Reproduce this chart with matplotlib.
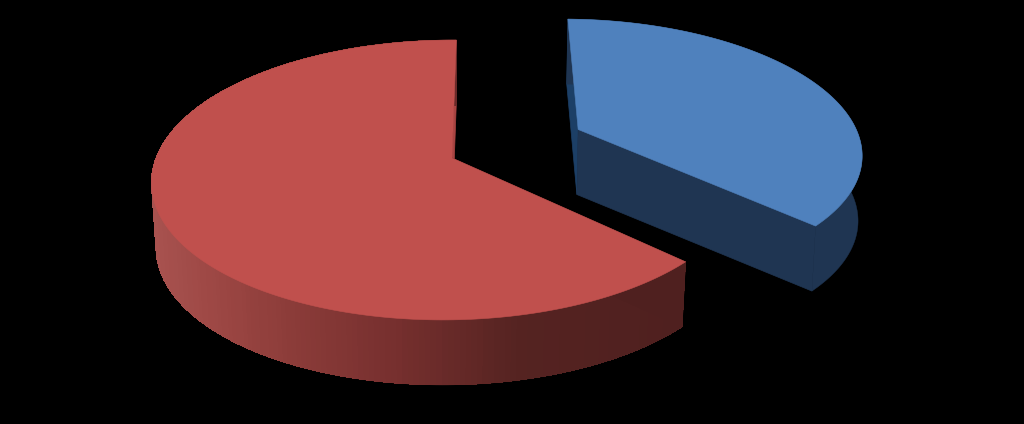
import numpy as np
import matplotlib
matplotlib.use('Agg')
import matplotlib.pyplot as plt
from matplotlib.colors import to_rgb

shares = [37, 63]
top_colors = ['#4f81bd', '#c0504d']
inner_colors = ['#1c3f66', '#a84442']
side_blue = '#1f3552'
red_cut = '#4f201f'
explode = [0.47, 0.0]

# side shading of the red rim, read left to right across the picture
shade_x = [155, 230, 300, 400, 520, 680]
shade_cols = ['#a8524f', '#9a4542', '#8a3b38', '#762f2e', '#552321', '#4f201f']
shade_rgb = np.array([to_rgb(c) for c in shade_cols])

W, H = 1024, 424
apex_x, apex_y = 452, 158
R, Rk, p, q, r = 293, 136.5, 0.157, -5, 0.01
thick = 65
shrinks = [0.99, 0.985]
blue_nudge_u = 0.012
blue_nudge_v = -0.03
blue_gap = 0.5


def project(u, v, bottom=False, shrink=1.0):
    s = 1 / (1 - p * v + r * u)
    x = (R * u + q * v) * s
    y = Rk * v * s
    if bottom:
        return apex_x + x * shrink, apex_y + y + thick
    return apex_x + x, apex_y + y


def rim(a0, a1, n):
    phi = np.radians(np.linspace(a0, a1, n))
    return np.sin(phi), -np.cos(phi)


fig = plt.figure(figsize=(W / 100, H / 100), dpi=100, facecolor='black')
ax = fig.add_axes([0, 0, 1, 1])
ax.set_xlim(0, W)
ax.set_ylim(H, 0)
ax.axis('off')

angles = np.cumsum([0] + [s * 3.6 for s in shares])

for i, share in enumerate(shares):
    a0, a1 = angles[i], angles[i + 1]
    mid = np.radians((a0 + a1) / 2)
    u0 = explode[i] * np.sin(mid)
    v0 = -explode[i] * np.cos(mid)
    if i == 0:
        u0 += blue_nudge_u
        v0 += blue_nudge_v
        a0 += blue_gap
    u, v = rim(a0, a1, 240)
    u = u + u0
    v = v + v0

    tx, ty = project(u, v)
    bx, by = project(u, v, bottom=True, shrink=shrinks[i])
    ax_t, ay_t = project(u0, v0)
    ax_b, ay_b = project(u0, v0, bottom=True, shrink=shrinks[i])

    # back cut face
    back = 0 if i == 0 else -1
    ax.fill([tx[back], ax_t, ax_b, bx[back]], [ty[back], ay_t, ay_b, by[back]],
            color=inner_colors[i], lw=0.5)

    # whole rim once so its outline stays smooth, then shading bands on it
    base = side_blue if i == 0 else '#7a3230'
    ax.fill(np.r_[tx, bx[::-1]], np.r_[ty, by[::-1]], color=base, lw=0.3)
    if i == 1:
        step = 5
        bands = np.round(tx / step).astype(int)
        order = np.argsort(v[:-1])
        for k in order:
            xm = bands[k] * step
            col = [np.interp(xm, shade_x, shade_rgb[:, c]) for c in range(3)]
            ax.fill([tx[k], tx[k + 1], bx[k + 1], bx[k]],
                    [ty[k], ty[k + 1], by[k + 1], by[k]], color=col, lw=0, antialiased=False)

    # front cut face
    front = -1 if i == 0 else 0
    col = side_blue if i == 0 else red_cut
    ax.fill([tx[front], ax_t, ax_b, bx[front]], [ty[front], ay_t, ay_b, by[front]], color=col, lw=0.5)

    ax.fill(np.r_[ax_t, tx], np.r_[ay_t, ty], color=top_colors[i], lw=0.4)

fig.savefig('out.png', dpi=100, facecolor='black')
